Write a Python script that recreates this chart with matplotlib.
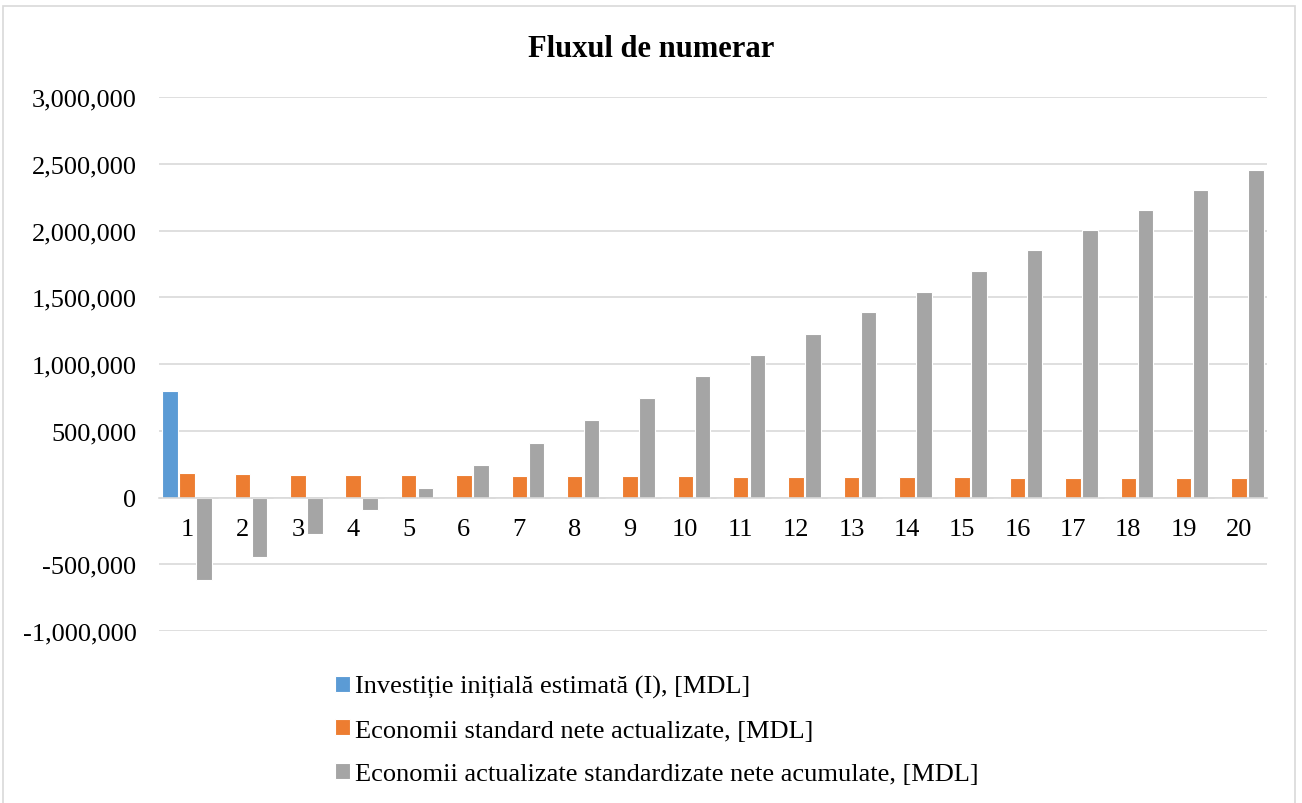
import numpy as np
import matplotlib.pyplot as plt
from matplotlib.patches import Rectangle
from matplotlib.ticker import FuncFormatter

plt.rcParams['font.family'] = ['Liberation Serif', 'DejaVu Serif']

# Cash flow over 20 years, in MDL
years = list(range(1, 21))
investitie = [800000] + [0] * 19
economii = [180000, 175000, 172000, 170000, 167000, 165000, 163000, 162000, 160000, 158000,
            157000, 155000, 153000, 152000, 150000, 149000, 148000, 146000, 145000, 143000]
cumulate = [-620000, -445000, -270000, -95000, 72000, 245000, 412000, 580000, 742000, 907000,
            1067000, 1228000, 1388000, 1543000, 1700000, 1852000, 2005000, 2155000, 2305000, 2455000]

labels = ["Investiție inițială estimată (I), [MDL]",
          "Economii standard nete actualizate, [MDL]",
          "Economii actualizate standardizate nete acumulate, [MDL]"]
colors = ["#5b9bd5", "#ed7d31", "#a5a5a5"]

fig = plt.figure(figsize=(13.02, 8.04), dpi=100)
ax = fig.add_axes([0.1224, 0.2139, 0.8505, 0.6642])

x = np.array(years)
step = 0.307
width = 0.28
series = [investitie, economii, cumulate]
bars = []
for i, (vals, c, lab) in enumerate(zip(series, colors, labels)):
    b = ax.bar(x + (i - 1) * step, vals, width, color=c, edgecolor="white",
               linewidth=0.8, label=lab, zorder=3)
    bars.append(b)

ax.set_xlim(0.5, 20.5)
ax.set_ylim(-1000000, 3000000)
ax.set_yticks(np.arange(-1000000, 3000001, 500000))
ax.yaxis.set_major_formatter(FuncFormatter(lambda v, p: "{:,.0f}".format(v)))
ax.grid(axis="y", color="#d9d9d9", linewidth=1.2, zorder=0)
for s in ["top", "right", "left"]:
    ax.spines[s].set_visible(False)
ax.spines["bottom"].set_position(("data", 0))
ax.spines["bottom"].set_color("#d9d9d9")
ax.spines["bottom"].set_linewidth(1.2)
ax.spines["bottom"].set_zorder(4)
ax.tick_params(axis="y", length=0, pad=16.5, labelsize=19)
ax.tick_params(axis="x", length=0, pad=15, labelsize=19)
ax.set_xticks(x)
ax.set_xticklabels([str(y) for y in years])

fig.text(0.5, 0.938, "Fluxul de numerar", ha="center", va="center",
         fontsize=22, fontweight="bold")

fig.legend(handles=bars, labels=labels, loc="upper left",
           bbox_to_anchor=(0.2495, 0.172), frameon=False, fontsize=19,
           handlelength=0.55, handleheight=0.55, handletextpad=0.2,
           labelspacing=0.8, borderaxespad=0)

fig.patches.append(Rectangle((3 / 1302, -0.01), 1292 / 1302, 1 - 7 / 804 + 0.01,
                             transform=fig.transFigure, fill=False,
                             edgecolor="#d9d9d9", linewidth=1.2))

fig.savefig("out.png", dpi=100, facecolor="white")
